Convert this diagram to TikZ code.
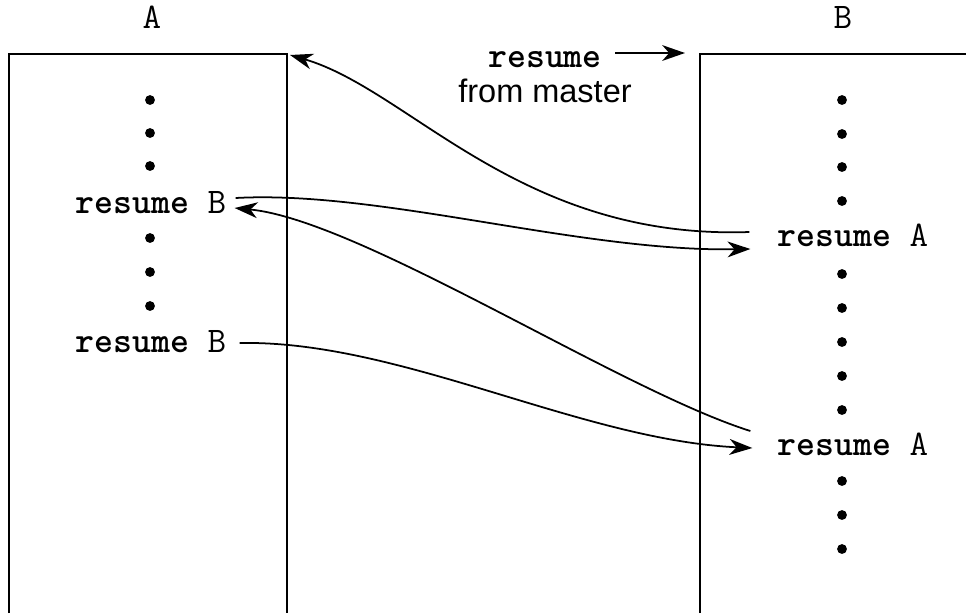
\documentclass[tikz,border=0pt]{standalone}
\usepackage{fontspec}
\setmainfont{Liberation Sans}
\setsansfont{Liberation Sans}
\usepackage{tikz}
\usetikzlibrary{
  arrows.meta,
  calc
}
\tikzset{
  lane/.style={
    draw,
    line width=1.1pt
  },
  codeword/.style={
    font=\fontsize{20.5pt}{22pt}\selectfont\ttfamily,
    inner sep=0pt,
    anchor=base
  },
  caption/.style={
    font=\fontsize{18.5pt}{20pt}\selectfont\sffamily,
    inner sep=0pt,
    anchor=base
  },
  bullet/.style={
    circle,
    fill=black,
    inner sep=0pt,
    minimum size=5.6pt
  },
  connection/.style={
    -{Stealth[length=13pt,width=9pt,inset=4pt]},
    line width=1pt
  }
}

\begin{document}
\begin{tikzpicture}[
  x=0.02cm,
  y=-0.02cm
]

  \useasboundingbox (0,0) rectangle (966,613);

  \coordinate (boxA-nw) at (9,54);
  \coordinate (boxA-ne) at (287,54);
  \coordinate (boxB-nw) at (700,54);
  \coordinate (boxB-ne) at (966,54);

  \draw[lane] (9,613) -- (boxA-nw) -- (boxA-ne) -- (287,613);
  \draw[lane] (700,613) -- (boxB-nw) -- (boxB-ne);

  \node[codeword] (headA) at (152,28) {A};
  \node[codeword] (headB) at (843,28) {B};

  \node[codeword] (masterres) at (545,67) {\textbf{resume}};
  \node[caption] (mastertext) at (545,102) {from master};

  % coroutine A
  \node[bullet] (dotA1) at (150,100) {};
  \node[bullet] (dotA2) at (150,133) {};
  \node[bullet] (dotA3) at (150,166) {};
  \node[codeword] (resB1) at (151,213) {\textbf{resume} B};
  \node[bullet] (dotA4) at (150,238) {};
  \node[bullet] (dotA5) at (150,272) {};
  \node[bullet] (dotA6) at (150,306) {};
  \node[codeword] (resB2) at (151,352) {\textbf{resume} B};

  % coroutine B
  \node[bullet] (dotB1) at (842,100) {};
  \node[bullet] (dotB2) at (842,134) {};
  \node[bullet] (dotB3) at (842,167) {};
  \node[bullet] (dotB4) at (842,201) {};
  \node[codeword] (resA1) at (853,246) {\textbf{resume} A};
  \node[bullet] (dotB5) at (842,274) {};
  \node[bullet] (dotB6) at (842,308) {};
  \node[bullet] (dotB7) at (842,342) {};
  \node[bullet] (dotB8) at (842,376) {};
  \node[bullet] (dotB9) at (842,410) {};
  \node[codeword] (resA2) at (853,455) {\textbf{resume} A};
  \node[bullet] (dotB10) at (842,481) {};
  \node[bullet] (dotB11) at (842,515) {};
  \node[bullet] (dotB12) at (842,549) {};

  \draw[connection]
  ([shift={(13,-14)}]masterres.base east) --
  ([shift={(-15,-1)}]boxB-nw);

  \draw[connection]
  ([shift={(-28,-14)}]resA1.base west)
  .. controls (520,240) and (410,90) ..
  ([shift={(3,1)}]boxA-ne);

  \draw[connection]
  ([shift={(9,-15)}]resB1.base east)
  .. controls (380,190) and (580,252) ..
  ([shift={(-27,3)}]resA1.base west);

  \draw[connection]
  ([shift={(-27,-24)}]resA2.base west)
  .. controls (620,390) and (360,220) ..
  ([shift={(8,-5)}]resB1.base east);

  \draw[connection]
  ([shift={(13,-9)}]resB2.base east)
  .. controls (400,340) and (580,440) ..
  ([shift={(-25,-7)}]resA2.base west);

\end{tikzpicture}
\end{document}
